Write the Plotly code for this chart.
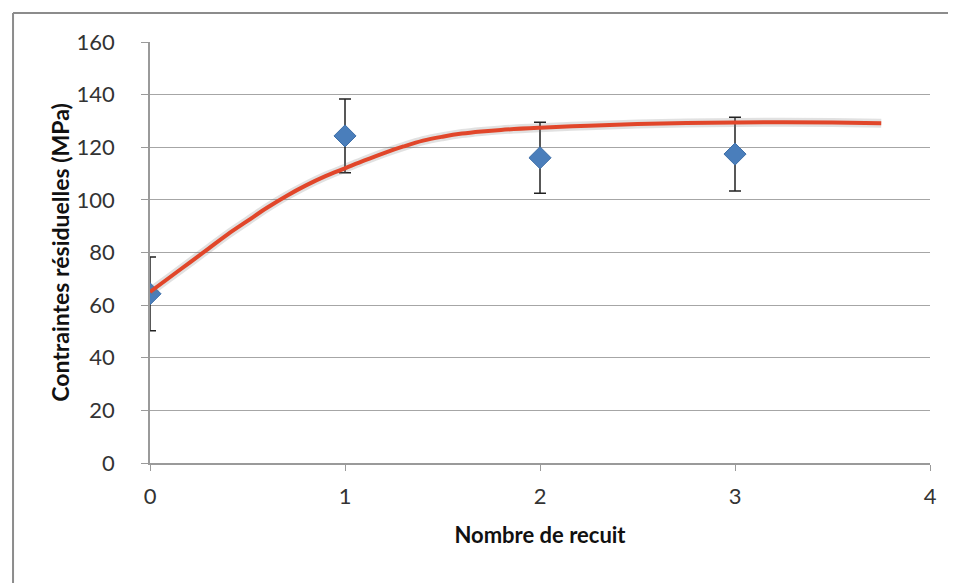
import plotly.graph_objects as go

# Measured data (number of annealings vs residual stress)
recuit = [0, 1, 2, 3]
contraintes = [64.3, 124.3, 116.0, 117.4]
erreur = [14.0, 14.0, 13.5, 14.0]

# Trend curve
courbe_x = [0, 0.1, 0.2, 0.3, 0.4, 0.5, 0.6, 0.7, 0.8, 0.9, 1.0, 1.1, 1.2, 1.3, 1.4,
            1.5, 1.6, 1.7, 1.8, 2.0, 2.25, 2.5, 2.75, 3.0, 3.25, 3.5, 3.75]
courbe_y = [65.0, 70.5, 76.0, 81.5, 87.0, 92.0, 97.0, 101.5, 105.5, 109.0, 112.0, 115.0,
            117.8, 120.3, 122.5, 124.0, 125.2, 126.0, 126.6, 127.4, 128.2, 128.8, 129.2,
            129.4, 129.5, 129.4, 129.1]

y_ticks = [0, 20, 40, 60, 80, 100, 120, 140, 160]
x_ticks = [0, 1, 2, 3, 4]

FONT = "Lato"

fig = go.Figure()

fig.add_trace(go.Scatter(
    x=recuit, y=contraintes, mode="markers",
    marker=dict(symbol="diamond", size=17, color="#4A7EBB",
                line=dict(width=1, color="#3F6FA8")),
    error_y=dict(type="data", array=erreur, visible=True,
                 color="#222222", thickness=1.5, width=6),
    showlegend=False, hoverinfo="skip",
))

# soft shadow under the trend line
fig.add_trace(go.Scatter(
    x=courbe_x, y=courbe_y, mode="lines",
    line=dict(color="rgba(120,120,120,0.22)", width=9, shape="spline"),
    showlegend=False, hoverinfo="skip",
))
fig.add_trace(go.Scatter(
    x=courbe_x, y=courbe_y, mode="lines",
    line=dict(color="#E1462A", width=4, shape="spline"),
    showlegend=False, hoverinfo="skip",
))

border = dict(color="#8C8C8C", width=2)
fig.update_layout(
    width=948, height=575,
    margin=dict(l=142, r=26, t=34, b=120),
    paper_bgcolor="white", plot_bgcolor="white",
    font=dict(family=FONT, color="#333333"),
    xaxis=dict(
        range=[0, 4], tickvals=x_ticks, ticktext=[str(v) for v in x_ticks],
        showgrid=False, zeroline=False,
        showline=True, linecolor="#9A9A9A", linewidth=1.5,
        ticks="outside", ticklen=6, tickcolor="#9A9A9A", tickwidth=1.2,
        tickfont=dict(size=22, family=FONT, color="#333333"),
        ticklabelstandoff=7,
        title=dict(text="<b>Nombre de recuit</b>", standoff=19,
                   font=dict(size=22, family=FONT, color="#111111")),
    ),
    yaxis=dict(
        range=[0, 160], tickvals=y_ticks, ticktext=[str(v) for v in y_ticks],
        showgrid=True, gridcolor="#A6A6A6", gridwidth=1.3,
        zeroline=False,
        showline=True, linecolor="#9A9A9A", linewidth=1.5,
        ticks="outside", ticklen=7, tickcolor="#9A9A9A", tickwidth=1.2,
        tickfont=dict(size=22, family=FONT, color="#333333"),
        ticklabelstandoff=22,
        title=dict(text="<b>Contraintes résiduelles (MPa)</b>", standoff=1,
                   font=dict(size=23, family=FONT, color="#111111")),
    ),
    shapes=[
        dict(type="line", xref="paper", yref="paper",
             x0=-0.1756, x1=1.2, y0=1.0689, y1=1.0689, line=border, layer="below"),
        dict(type="line", xref="paper", yref="paper",
             x0=-0.1756, x1=-0.1756, y0=-0.8, y1=1.0689, line=border, layer="below"),
    ],
)

fig.write_html("out.html")
